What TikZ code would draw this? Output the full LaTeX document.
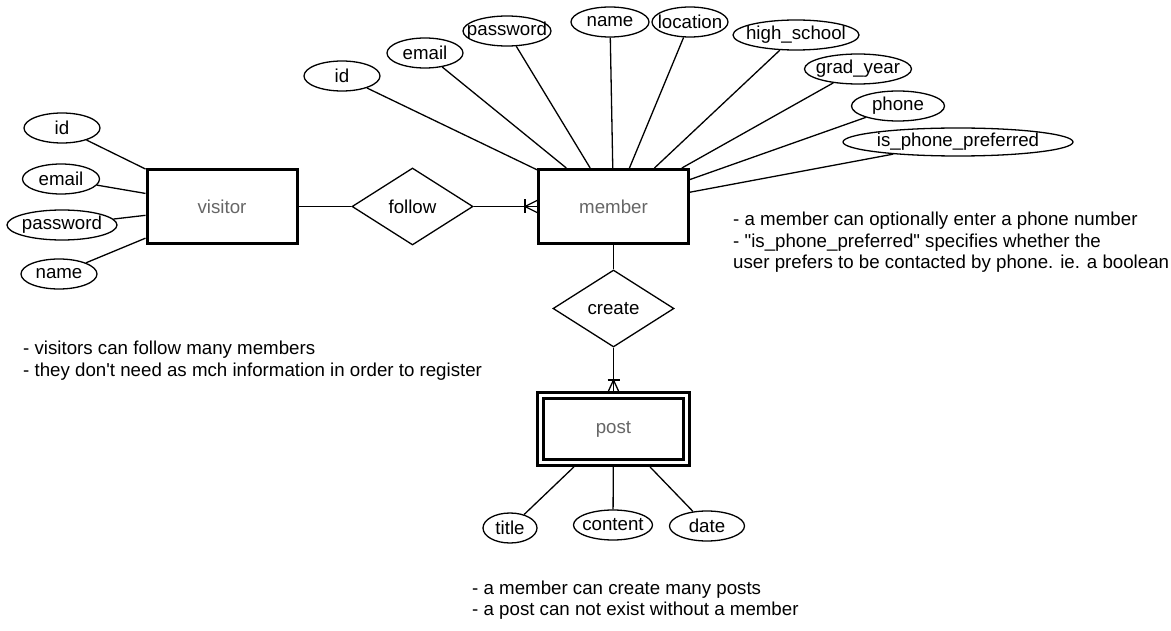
\documentclass[tikz,border=0pt]{standalone}
\usepackage{fontspec}
\setmainfont{Liberation Sans}[Ligatures=TeXOff]
\usetikzlibrary{shapes.geometric,calc}
\definecolor{entgray}{HTML}{666666}
\newcommand{\attrlbl}[1]{\makebox[0pt]{#1}}

\begin{document}
\begin{tikzpicture}[x=1pt,y=-1pt,font=\fontsize{18.7}{21.5}\selectfont]
		\tikzstyle{entity}=[rectangle,draw=black,line width=3pt,text=entgray,minimum width=150,minimum height=74]
		\tikzstyle{weakentity}=[rectangle,draw=black,line width=3pt,double,double distance=3pt,outer sep=4.5pt,text=entgray,minimum width=146,minimum height=67]
		\tikzstyle{attr}=[ellipse,draw=black,line width=1.3pt,inner sep=0pt,minimum height=30]
		\tikzstyle{relation}=[diamond,draw=black,line width=1.3pt,inner sep=0pt,aspect=1.57,minimum width=121,minimum height=77]
		\tikzstyle{edge}=[draw=black,line width=1.3pt]
		\tikzstyle{note}=[align=left,inner sep=0pt,anchor=north west]

		\fill[white] (0,0) rectangle (1171,631);
		\useasboundingbox (0,0) rectangle (1171,631);

		\begin{scope}

			\node [entity] (visitor) at (222,206.5) {visitor};
			\node [entity] (member) at (613.5,206.5) {member};
			\node [weakentity] (post) at (613.5,429) {post};

			\node [relation] (follow) at (412.5,206.5) {follow};
			\node [relation] (create) at (613.5,308.5) {create};

			% visitor attributes
			\node [attr, minimum width=76] (vid) at (62,128) {\attrlbl{id}};
			\node [attr, minimum width=77] (vemail) at (61,179) {\attrlbl{email}};
			\node [attr, minimum width=110] (vpassword) at (62,225) {\attrlbl{password}};
			\node [attr, minimum width=76] (vname) at (59,274) {\attrlbl{name}};

			% member attributes
			\node [attr, minimum width=76] (mid) at (342,76) {\attrlbl{id}};
			\node [attr, minimum width=76] (memail) at (425,53) {\attrlbl{email}};
			\node [attr, minimum width=88] (mpassword) at (507,31) {\attrlbl{password}};
			\node [attr, minimum width=78] (mname) at (610,22) {\attrlbl{name}};
			\node [attr, minimum width=76] (mlocation) at (690,22) {\attrlbl{location}};
			\node [attr, minimum width=126] (mhighschool) at (796,35) {\attrlbl{high\_school}};
			\node [attr, minimum width=107] (mgradyear) at (858,69) {\attrlbl{grad\_year}};
			\node [attr, minimum width=93] (mphone) at (898,106) {\attrlbl{phone}};
			\node [attr, minimum width=230, minimum height=28] (mphonepref) at (958,142) {\attrlbl{is\_phone\_preferred}};

			% post attributes
			\node [attr, minimum width=54] (ptitle) at (510,528) {\attrlbl{title}};
			\node [attr, minimum width=79] (pcontent) at (613,525) {\attrlbl{content}};
			\node [attr, minimum width=75] (pdate) at (707,526) {\attrlbl{date}};

			\foreach \a in {vid,vemail,vpassword,vname}
				\path[edge] (\a) edge (visitor);
			\foreach \a in {mid,memail,mpassword,mname,mlocation,mhighschool,mgradyear,mphone,mphonepref}
				\path[edge] (\a) edge (member);
			\foreach \a in {ptitle,pcontent,pdate}
				\path[edge] (\a) edge (post);

			\path[edge] (visitor) edge (follow);
			\path[edge] (follow) edge (member);
			\path[edge] (member) edge (create);
			\path[edge] (create) edge (post);

			% one or many at member
			\draw[edge] ($(member.west)+(-12,-7)$) -- ($(member.west)+(-12,7)$);
			\draw[edge] ($(member.west)+(0,-6)$) -- ($(member.west)+(-12,0)$) -- ($(member.west)+(0,6)$);
			% one or many at post
			\draw[edge] ($(post.north)+(-6,-11)$) -- ($(post.north)+(6,-11)$);
			\draw[edge] ($(post.north)+(-5,0)$) -- ($(post.north)+(0,-11)$) -- ($(post.north)+(5,0)$);

			\node [note] (membernote) at (733,212) {- a member can optionally enter a phone number\\
				- "is\_phone\_preferred" specifies whether the\\
				user prefers to be contacted by phone. ie. a boolean};
			\node [note] (visitornote) at (23,341) {- visitors can follow many members\\
				- they don't need as mch information in order to register};
			\node [note] (postnote) at (472,580.5) {- a member can create many posts\\
				- a post can not exist without a member};

		\end{scope}
\end{tikzpicture}
\end{document}
